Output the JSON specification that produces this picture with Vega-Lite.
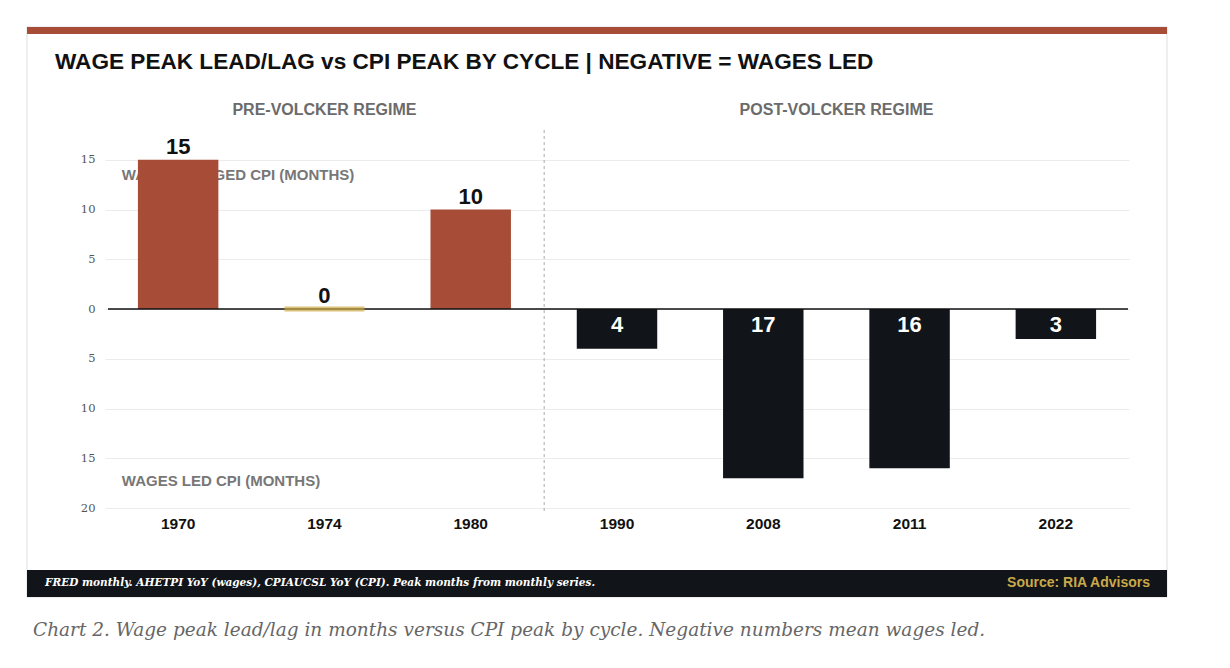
{
  "$schema": "https://vega.github.io/schema/vega-lite/v6.json",
  "autosize": "none",
  "width": 1024,
  "height": 378,
  "padding": {"left": 105, "top": 130, "right": 101, "bottom": 160},
  "background": "white",
  "config": {"view": {"stroke": null}, "font": "Liberation Sans"},
  "data": {
    "values": [
      {"cycle": "1970", "months": 15, "regime": "Pre-Volcker"},
      {"cycle": "1974", "months": 0, "regime": "Pre-Volcker"},
      {"cycle": "1980", "months": 10, "regime": "Pre-Volcker"},
      {"cycle": "1990", "months": -4, "regime": "Post-Volcker"},
      {"cycle": "2008", "months": -17, "regime": "Post-Volcker"},
      {"cycle": "2011", "months": -16, "regime": "Post-Volcker"},
      {"cycle": "2022", "months": -3, "regime": "Post-Volcker"}
    ]
  },
  "layer": [
    {
      "data": {"values": [{}]},
      "mark": {"type": "rect", "fill": null, "stroke": "#dedede", "strokeWidth": 1},
      "encoding": {"x": {"value": -78}, "x2": {"value": 1062}, "y": {"value": -103}, "y2": {"value": 467}}
    },
    {
      "data": {"values": [{}]},
      "mark": {"type": "rect", "fill": "#A64C37"},
      "encoding": {"x": {"value": -78}, "x2": {"value": 1062}, "y": {"value": -103}, "y2": {"value": -96}}
    },
    {
      "data": {"values": [{}]},
      "mark": {"type": "rect", "fill": "#111418"},
      "encoding": {"x": {"value": -78}, "x2": {"value": 1062}, "y": {"value": 440}, "y2": {"value": 467}}
    },
    {
      "data": {"values": [{}]},
      "mark": {"type": "text", "text": "WAGE PEAK LEAD/LAG vs CPI PEAK BY CYCLE | NEGATIVE = WAGES LED", "align": "left", "baseline": "middle", "fontSize": 22.6, "fontWeight": "bold", "color": "#111111"},
      "encoding": {"x": {"value": -50}, "y": {"value": -68}}
    },
    {
      "data": {"values": [{"regime": "PRE-VOLCKER REGIME"}]},
      "mark": {"type": "text", "align": "center", "baseline": "middle", "fontSize": 16, "fontWeight": "bold", "color": "#6b6b6b"},
      "encoding": {
        "x": {"datum": "1974", "bandPosition": 0.5},
        "y": {"datum": 20, "type": "quantitative"},
        "text": {"field": "regime"}
      }
    },
    {
      "data": {"values": [{"regime": "POST-VOLCKER REGIME"}]},
      "mark": {"type": "text", "align": "center", "baseline": "middle", "fontSize": 16, "fontWeight": "bold", "color": "#6b6b6b"},
      "encoding": {
        "x": {"datum": "2008", "bandPosition": 1.41},
        "y": {"datum": 20, "type": "quantitative"},
        "text": {"field": "regime"}
      }
    },
    {
      "data": {"values": [{}]},
      "mark": {"type": "rule", "stroke": "#aaaaaa", "strokeWidth": 1, "strokeDash": [3, 3]},
      "encoding": {"x": {"datum": "1980", "bandPosition": 1.413}, "y": {"datum": 18, "type": "quantitative"}, "y2": {"datum": -20.5}}
    },
    {
      "data": {"values": [{"note": "WAGES LAGGED CPI (MONTHS)", "at": 13.5}, {"note": "WAGES LED CPI (MONTHS)", "at": -17.3}]},
      "mark": {"type": "text", "align": "left", "baseline": "middle", "fontSize": 15, "fontWeight": "bold", "color": "#777777"},
      "encoding": {
        "x": {"datum": "1970", "bandPosition": -0.2},
        "y": {"field": "at", "type": "quantitative"},
        "text": {"field": "note"}
      }
    },
    {
      "mark": {"type": "bar"},
      "encoding": {
        "x": {
          "field": "cycle",
          "type": "ordinal",
          "scale": {"domain": ["1970", "1974", "1980", "1990", "2008", "2011", "2022"], "paddingInner": 0.45, "paddingOuter": 0.225},
          "axis": {"title": null, "domain": false, "ticks": false, "bandPosition": 0.5, "labelAngle": 0, "labelAlign": "center", "labelBaseline": "top", "labelFontSize": 15.5, "labelFontWeight": "bold", "labelColor": "#111111", "labelPadding": 8}
        },
        "y": {
          "field": "months",
          "type": "quantitative",
          "scale": {"domain": [-20, 18], "nice": false, "zero": false},
          "axis": {"title": null, "values": [-20, -15, -10, -5, 0, 5, 10, 15], "labelExpr": "abs(datum.value)", "grid": true, "gridColor": "#ececec", "domain": false, "ticks": false, "labelColor": "#555555", "labelFontSize": 11.5, "labelFont": "DejaVu Serif", "labelPadding": 10}
        },
        "y2": {"datum": 0},
        "color": {
          "condition": [
            {"test": "datum.months > 0", "value": "#A64C37"},
            {"test": "datum.months == 0", "value": "#CCAA45"}
          ],
          "value": "#111418"
        }
      }
    },
    {
      "data": {"values": [{}]},
      "mark": {"type": "rule", "stroke": "#111111", "strokeWidth": 1.5},
      "encoding": {"x": {"value": 3}, "x2": {"value": 1023}, "y": {"datum": 0, "type": "quantitative"}}
    },
    {
      "transform": [{"filter": "datum.months == 0"}],
      "mark": {"type": "tick", "orient": "horizontal", "thickness": 5, "size": 80, "color": "#CCAA45"},
      "encoding": {"x": {"field": "cycle", "type": "ordinal"}, "y": {"field": "months", "type": "quantitative"}}
    },
    {
      "transform": [{"filter": "datum.months >= 0"}],
      "mark": {"type": "text", "align": "center", "baseline": "alphabetic", "dy": -6, "fontSize": 22, "fontWeight": "bold", "color": "#111111"},
      "encoding": {"x": {"field": "cycle", "type": "ordinal"}, "y": {"field": "months", "type": "quantitative"}, "text": {"field": "months", "type": "quantitative"}}
    },
    {
      "transform": [{"filter": "datum.months < 0"}],
      "mark": {"type": "text", "align": "center", "baseline": "alphabetic", "fontSize": 22, "fontWeight": "bold", "color": "#ffffff", "text": {"expr": "abs(datum.months)"}},
      "encoding": {"x": {"field": "cycle", "type": "ordinal"}, "y": {"datum": 0, "type": "quantitative"}, "yOffset": {"value": 23}}
    },
    {
      "data": {"values": [{}]},
      "mark": {"type": "text", "text": "FRED monthly. AHETPI YoY (wages), CPIAUCSL YoY (CPI). Peak months from monthly series.", "align": "left", "baseline": "middle", "font": "DejaVu Serif", "fontStyle": "italic", "fontWeight": "bold", "fontSize": 10.5, "color": "#ffffff"},
      "encoding": {"x": {"value": -60}, "y": {"value": 453}}
    },
    {
      "data": {"values": [{}]},
      "mark": {"type": "text", "text": "Source: RIA Advisors", "align": "right", "baseline": "middle", "fontSize": 14, "fontWeight": "bold", "color": "#C9A94A"},
      "encoding": {"x": {"value": 1045}, "y": {"value": 453}}
    },
    {
      "data": {"values": [{}]},
      "mark": {"type": "text", "text": "Chart 2. Wage peak lead/lag in months versus CPI peak by cycle. Negative numbers mean wages led.", "align": "left", "baseline": "middle", "font": "DejaVu Serif", "fontStyle": "italic", "fontSize": 18.5, "color": "#666666"},
      "encoding": {"x": {"value": -72}, "y": {"value": 500}}
    }
  ]
}
